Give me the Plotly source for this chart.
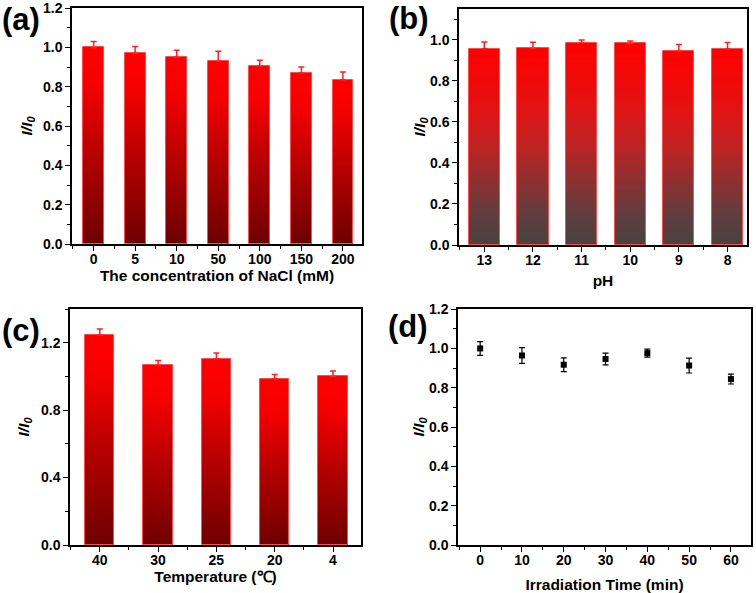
import plotly.graph_objects as go
import numpy as np

# ---------------- data ----------------
nacl_labels = ["0", "5", "10", "50", "100", "150", "200"]
nacl_vals = [1.0, 0.97, 0.95, 0.93, 0.905, 0.87, 0.835]
nacl_err = [0.03, 0.035, 0.035, 0.05, 0.03, 0.03, 0.04]

ph_labels = ["13", "12", "11", "10", "9", "8"]
ph_vals = [0.956, 0.958, 0.984, 0.982, 0.945, 0.955]
ph_err = [0.033, 0.03, 0.015, 0.012, 0.032, 0.032]

temp_labels = ["40", "30", "25", "20", "4"]
temp_vals = [1.246, 1.067, 1.105, 0.986, 1.0]
temp_err = [0.035, 0.028, 0.034, 0.026, 0.032]

time_min = [0, 10, 20, 30, 40, 50, 60]
time_vals = [1.0, 0.964, 0.917, 0.946, 0.976, 0.913, 0.844]
time_err = [0.035, 0.04, 0.035, 0.03, 0.02, 0.038, 0.025]

# gradient stops (fraction of bar height, rgb)
red_stops = [(0.0, (110, 0, 0)), (0.5, (190, 0, 0)), (0.8, (245, 0, 0)), (1.0, (255, 0, 0))]
gray_stops = [(0.0, (72, 66, 66)), (0.15, (95, 62, 62)), (0.3, (135, 50, 50)),
              (0.5, (190, 35, 35)), (0.7, (228, 18, 18)), (1.0, (255, 0, 0))]

FONT = "Liberation Sans, Arial, sans-serif"
W, H = 756, 593

fig = go.Figure()


def color_at(stops, f):
    for (f0, c0), (f1, c1) in zip(stops[:-1], stops[1:]):
        if f0 <= f <= f1:
            t = (f - f0) / (f1 - f0)
            return "rgb(%d,%d,%d)" % tuple(round(a + (b - a) * t) for a, b in zip(c0, c1))
    return "rgb(%d,%d,%d)" % stops[-1][1]


def gradient_bars(labels, vals, errs, xa, ya, stops, width, n=60):
    x = list(range(len(labels)))
    v = np.array(vals, dtype=float)
    for k in range(n):
        f_top = 1 - k / n
        f_mid = 1 - (k + 0.5) / n
        fig.add_trace(go.Bar(
            x=x, y=v * f_top, width=width, xaxis=xa, yaxis=ya,
            marker=dict(color=color_at(stops, f_mid), line=dict(width=0)),
            showlegend=False, hoverinfo="skip"))
    fig.add_trace(go.Bar(
        x=x, y=v, width=width, xaxis=xa, yaxis=ya,
        marker=dict(color="rgba(0,0,0,0)", line=dict(color="#ff4d4d", width=1)),
        error_y=dict(type="data", array=errs, arrayminus=[0] * len(v),
                     color="#ff2020", thickness=1.5, width=3),
        showlegend=False))


gradient_bars(nacl_labels, nacl_vals, nacl_err, "x", "y", red_stops, 0.5)
gradient_bars(ph_labels, ph_vals, ph_err, "x2", "y2", gray_stops, 0.64)
gradient_bars(temp_labels, temp_vals, temp_err, "x3", "y3", red_stops, 0.5)

fig.add_trace(go.Scatter(
    x=time_min, y=time_vals, mode="markers", xaxis="x4", yaxis="y4",
    marker=dict(symbol="square", size=6, color="black"),
    error_y=dict(type="data", array=time_err, color="black", thickness=1.2, width=3),
    showlegend=False))


def px_dom_x(a, b):
    return [a / W, b / W]


def px_dom_y(top, bottom):
    return [1 - bottom / H, 1 - top / H]


tickfont = dict(family=FONT, size=14, color="black", weight="bold")
titlefont = dict(family=FONT, size=15.5, color="black", weight="bold")
ytitle = "<i>I/I</i><sub><i>0</i></sub>"

common = dict(showline=True, linecolor="black", linewidth=1.5, mirror=True,
              ticks="outside", ticklen=5, tickwidth=1.3, tickcolor="black",
              showgrid=False, zeroline=False, tickfont=tickfont, automargin=False)


def xcat(labels, rng, dom, anchor, title, standoff):
    n = len(labels)
    return dict(common, domain=dom, anchor=anchor, range=rng,
                tickmode="array", tickvals=list(range(n)), ticktext=labels,
                ticklabelstandoff=-4,
                minor=dict(tickmode="array", tickvals=[i + 0.5 for i in range(-1, n)],
                           ticklen=3, tickwidth=1, tickcolor="black", ticks="outside"),
                title=dict(text=title, font=titlefont, standoff=standoff))


def yax(rng, dtick, mdtick, dom, anchor, standoff):
    return dict(common, domain=dom, anchor=anchor, range=rng, dtick=dtick, tick0=0,
                tickformat=".1f",
                minor=dict(dtick=mdtick, tick0=0, ticklen=3, tickwidth=1,
                           tickcolor="black", ticks="outside"),
                title=dict(text=ytitle, font=titlefont, standoff=standoff))


fig.update_layout(
    width=W, height=H, margin=dict(l=0, r=0, t=0, b=0),
    paper_bgcolor="white", plot_bgcolor="white",
    barmode="overlay", bargap=0, showlegend=False,
    font=dict(family=FONT, color="black"),
    xaxis=xcat(nacl_labels, [-0.52, 6.46], px_dom_x(72, 362), "y",
               "The concentration of NaCl (mM)", 4),
    yaxis=yax([0, 1.2005], 0.2, 0.1, px_dom_y(8, 244), "x", 7),
    xaxis2=xcat(ph_labels, [-0.52, 5.4], px_dom_x(459, 747), "y2", "pH", 9),
    yaxis2=yax([0, 1.15], 0.2, 0.1, px_dom_y(9, 245), "x2", 0),
    xaxis3=xcat(temp_labels, [-0.51, 4.48], px_dom_x(70, 361), "y3",
                "Temperature (\u2103)", 5),
    yaxis3=yax([0, 1.4], 0.4, 0.2, px_dom_y(309, 545), "x3", 8),
    xaxis4=dict(common, domain=px_dom_x(458, 751), anchor="y4", range=[-5.3, 64.8],
                dtick=10, tick0=0, ticklabelstandoff=-4,
                minor=dict(dtick=5, tick0=0, ticklen=3, tickwidth=1,
                           tickcolor="black", ticks="outside"),
                title=dict(text="Irradiation Time (min)", font=titlefont, standoff=14)),
    yaxis4=yax([0, 1.2005], 0.2, 0.1, px_dom_y(309, 545), "x4", 1),
)

for txt, cx, cy in [("(a)", 21, 20), ("(b)", 409, 19), ("(c)", 21, 330), ("(d)", 408, 326)]:
    fig.add_annotation(text="<b>%s</b>" % txt, x=cx / W, y=1 - cy / H, xref="paper",
                       yref="paper", showarrow=False, xanchor="center", yanchor="middle",
                       font=dict(family=FONT, size=31, color="black"))

fig.write_html("out.html", config={"displayModeBar": False},
               post_script="document.body.style.margin='0';document.body.style.overflow='hidden';")
